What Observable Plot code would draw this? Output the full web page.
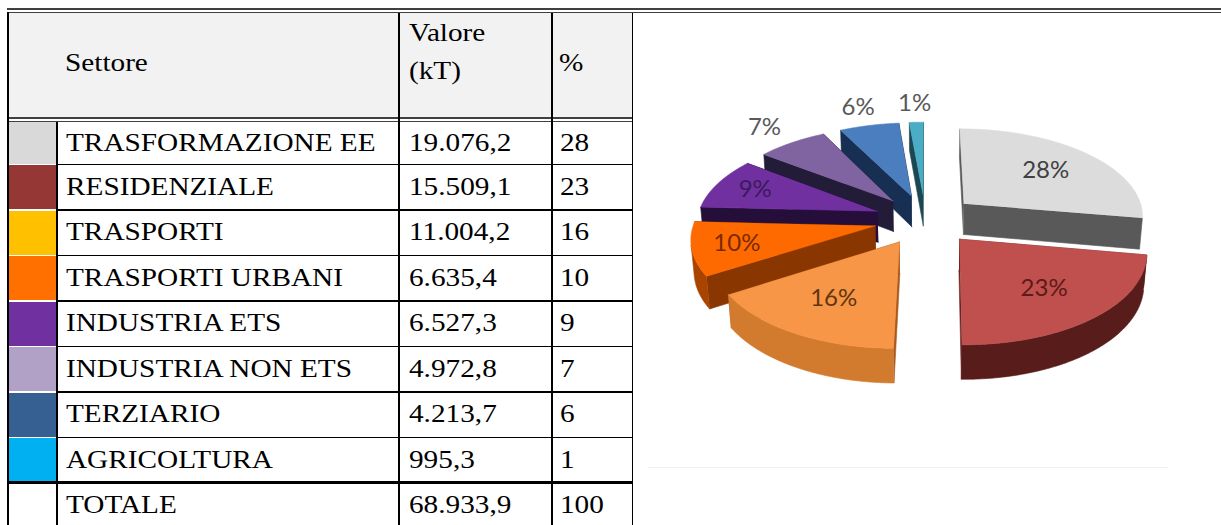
<!DOCTYPE html>
<html><head><meta charset="utf-8">
<script src="https://cdn.jsdelivr.net/npm/d3@7"></script>
<script src="https://cdn.jsdelivr.net/npm/@observablehq/plot@0.6"></script>
<style>
html,body{margin:0;padding:0;background:#fff;}
#root{position:relative;width:1221px;height:525px;overflow:hidden;background:#fff;}
.t{position:absolute;white-space:nowrap;font-family:"Liberation Serif","Times New Roman",serif;font-size:25px;color:#000;}
.t span{display:inline-block;transform:scaleX(1.17);transform-origin:0 50%;}
.b{position:absolute;}
</style></head>
<body><div id="root"></div>
<script>
// ---- data ----
const sectors = ["TRASFORMAZIONE EE","RESIDENZIALE","TRASPORTI","TRASPORTI URBANI","INDUSTRIA ETS","INDUSTRIA NON ETS","TERZIARIO","AGRICOLTURA"];
const valuesKT = [19076.2, 15509.1, 11004.2, 6635.4, 6527.3, 4972.8, 4213.7, 995.3];
const valueText = ["19.076,2","15.509,1","11.004,2","6.635,4","6.527,3","4.972,8","4.213,7","995,3"];
const percentText = ["28","23","16","10","9","7","6","1"];
const swatchColors = ["#d9d9d9","#953735","#ffc000","#ff7000","#7030a0","#b2a1c7","#366092","#00b0f0"];
const totalRow = ["TOTALE","68.933,9","100"];
const headers = ["Settore","Valore","(kT)","%"];
// pie colours (3D faces)
const topColors = ["#dcdcdc","#c0504d","#f79646","#ff6a00","#7030a0","#8064a2","#4a7ebf","#4bacc6"];
const outerColors = ["#8c8c8c","#581c1b","#d27a2e","#a84300","#3a1754","#3d2f52","#23406a","#235a69"];
const radialColors = ["#595959","#6e2321","#a85a1d","#8a3600","#250e3a","#231c38","#172f52","#1b4753"];
const labelColors = ["#404040","#5c1a18","#613510","#7a2a00","#3c1a5c","#595959","#595959","#595959"];

const root = document.getElementById("root");
function box(x,y,w,h,bg){const d=document.createElement("div");d.className="b";
  Object.assign(d.style,{left:x+"px",top:y+"px",width:w+"px",height:h+"px",background:bg});root.appendChild(d);return d;}
function txt(x,y,h,s){const d=document.createElement("div");d.className="t";
  Object.assign(d.style,{left:x+"px",top:y+"px",height:h+"px",lineHeight:h+"px"});
  const sp=document.createElement("span");sp.textContent=s;d.appendChild(sp);root.appendChild(d);return d;}

// ---- table ----
const colX = [7, 56, 398, 551, 631.5];
const rowTop = i => i===0 ? 122 : 163.5 + (i-1)*45.5;
const nRows = sectors.length + 1;
box(8.5,13,623,104,"#f2f2f2");
box(7,8,1214,2,"#404040");
box(7,12,1214,1.2,"#404040");
box(7,117,625,2,"#404040");
box(7,121,625,1.2,"#404040");
swatchColors.forEach((c,i)=>{const y0=rowTop(i)+(i?1.5:0);box(8.5,y0,47.5,rowTop(i+1)-y0,c);});
for(let i=1;i<nRows;i++){
  if(i===nRows-1) box(7,rowTop(i)-1,625,3,"#000");
  else box(colX[1],rowTop(i),colX[4]-colX[1],1.5,"#000");
}
box(colX[0],12,1.6,513,"#000");
box(colX[1],122,1.5,403,"#000");
[colX[2],colX[3],colX[4]].forEach(x=>box(x,13,1.6,512,"#000"));
txt(65,11,104,headers[0]);
txt(408.5,13.5,37,headers[1]);
txt(408.5,51.5,37,headers[2]);
txt(559,11,104,headers[3]);
sectors.forEach((s,i)=>{const y=rowTop(i),h=rowTop(i+1)-y;
  txt(66,y,h,s);txt(408.5,y,h,valueText[i]);txt(560,y,h,percentText[i]);});
{const y=rowTop(8);txt(66,y,45,totalRow[0]);txt(408.5,y,45,totalRow[1]);txt(560,y,45,totalRow[2]);}
box(648,467,520,1,"#f1f1f1");

// ---- 3D exploded pie ----
const PX=640, PY=80, PW=560, PH=400;
const CX=925-PX, CY=219-PY, F=1300;
const D=7.2, sinP=0.485, cosP=Math.sqrt(1-sinP*sinP), H3=0.2, E=0.285;
const depth=(X,Y,Z)=>D - Z*cosP - Y*sinP;
const proj=(X,Y,Z)=>{const d=depth(X,Y,Z);return [X/d,(Y*cosP - Z*sinP)/d];};
const total=d3.sum(valuesKT);
let acc=0;
const slices=valuesKT.map((v,i)=>{const a0=acc/total*2*Math.PI;acc+=v;const a1=acc/total*2*Math.PI;
  return {i,a0,a1,m:(a0+a1)/2,frac:v/total};});
const faces=[];
let fid=0;
function addPoly(pts,color){const id=fid++;for(const p of pts){const [u,v]=proj(...p);faces.push({id,u,v,color});}}
function samples(t0,t1){const n=Math.max(2,Math.ceil((t1-t0)/(Math.PI/360)));return d3.range(n+1).map(k=>t0+(t1-t0)*k/n);}
const W=s=>{const ex=E*Math.sin(s.m),ez=-E*Math.cos(s.m);return (r,t,Y)=>[r*Math.sin(t)+ex,Y,-r*Math.cos(t)+ez];};
const order=slices.slice().sort((a,b)=>depth(...W(b)(0.6,b.m,0))-depth(...W(a)(0.6,a.m,0)));
for(const s of order){
  const w=W(s);
  const walls=[s.a0,s.a1].map(a=>({a,dd:depth(...w(0.5,a,-H3/2))})).sort((p,q)=>q.dd-p.dd);
  for(const {a} of walls) addPoly([w(0,a,0),w(1,a,0),w(1,a,-H3),w(0,a,-H3)],radialColors[s.i]);
  const vis=samples(s.a0,s.a1).filter(t=>{const [X,,Z]=w(1,t,0);
    return -Math.cos(t)*D*cosP-(Math.sin(t)*X-Math.cos(t)*Z)>0;});
  if(vis.length>1) addPoly([...vis.map(t=>w(1,t,0)),...vis.slice().reverse().map(t=>w(1,t,-H3))],outerColors[s.i]);
  addPoly([w(0,s.a0,0),...samples(s.a0,s.a1).map(t=>w(1,t,0))],topColors[s.i]);
}
const labels=slices.map(s=>{const w=W(s);const inside=s.frac>0.08;const r=inside?(s.frac<0.12?0.76:0.65):1.3;
  const [u,v]=proj(...w(r,s.m,0));return {u,v,text:percentText[s.i]+"%",color:labelColors[s.i]};});

const chart=Plot.plot({
  width:PW,height:PH,margin:0,
  x:{domain:[-CX/F,(PW-CX)/F],axis:null},
  y:{domain:[-(PH-CY)/F,CY/F],axis:null},
  color:{type:"identity"},
  marks:[
    Plot.line(faces,{x:"u",y:"v",z:"id",fill:"color",stroke:"color",strokeWidth:0.6}),
    Plot.text(labels,{x:"u",y:"v",text:"text",fill:"color",fontSize:24,fontFamily:"Lato",stroke:"none"})
  ]
});
Object.assign(chart.style,{position:"absolute",left:PX+"px",top:PY+"px",background:"transparent"});
root.appendChild(chart);
</script>
</body></html>
